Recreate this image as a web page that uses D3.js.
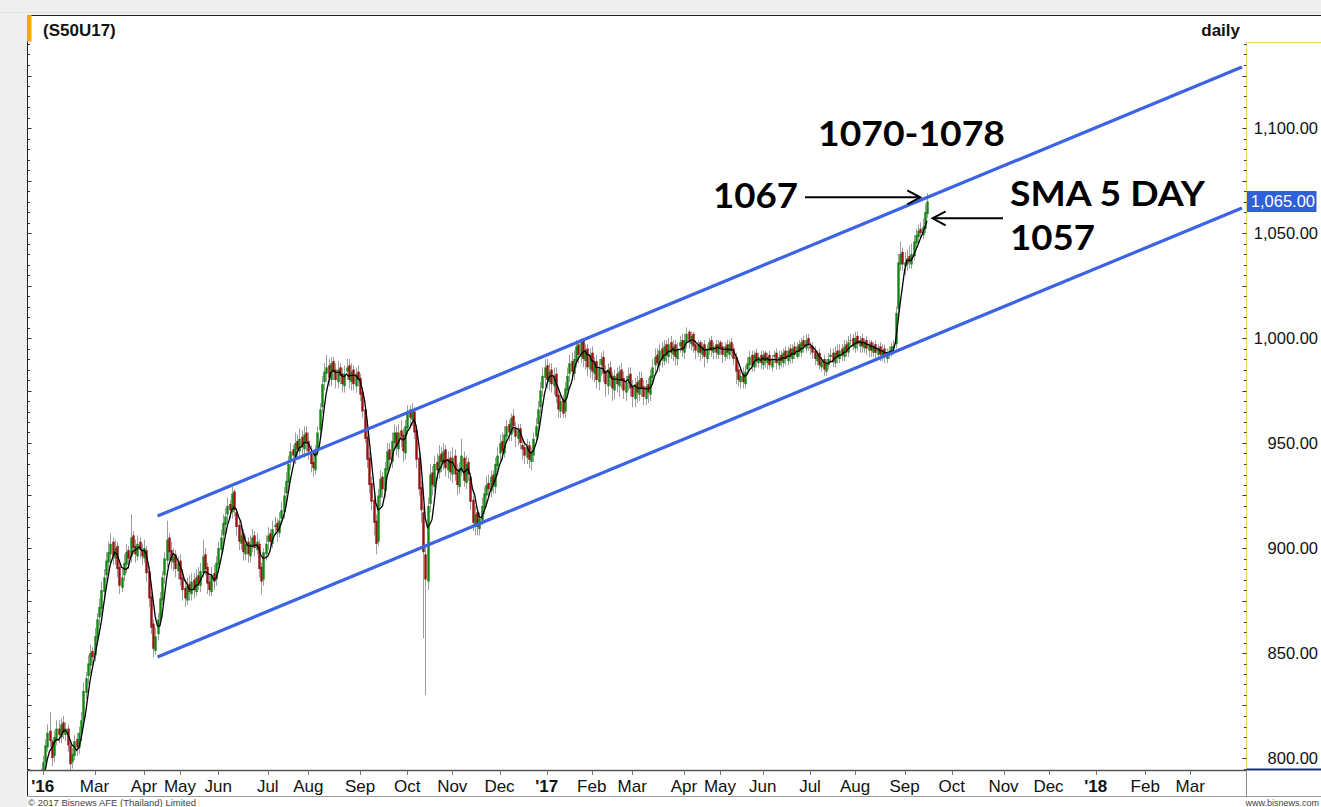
<!DOCTYPE html>
<html><head><meta charset="utf-8">
<script src="https://cdn.jsdelivr.net/npm/d3@7"></script>
<style>body{margin:0;background:#efefef;overflow:hidden}svg{display:block}</style>
</head><body>
<svg id="c" width="1321" height="807"></svg>
<script>
// ---- data (trading-day index 0 = first session of the contract) ----
const closes = [
784,788,792,798,806,812,808,800,810,814,
811,816,812,814,806,797,802,808,805,812,
818,832,838,845,850,848,858,866,872,880,
886,894,898,902,896,900,890,882,886,893,
898,895,905,900,897,902,899,896,900,888,
876,862,852,858,866,876,886,895,904,898,
894,896,890,893,885,880,876,882,879,884,
880,886,883,889,896,890,883,880,887,884,
893,900,905,912,915,920,918,926,918,910,
903,906,898,902,897,902,905,900,903,890,
884,898,902,906,903,909,911,908,913,918,
925,932,940,946,944,950,947,952,948,954,
950,946,940,938,946,955,966,978,984,986,
981,988,984,980,985,982,978,983,986,980,
984,978,983,980,973,965,952,942,930,922,
912,902,925,933,928,938,946,942,951,955,
948,955,953,946,958,965,962,966,955,942,
928,918,898,885,920,935,930,940,937,944,
941,946,938,942,936,943,935,930,938,944,
932,940,935,922,912,916,910,914,920,926,
930,928,934,930,940,944,950,946,954,958,
955,962,958,953,956,950,947,944,948,942,
945,952,958,966,975,982,986,980,984,978,
982,972,966,970,964,976,982,988,984,990,
996,992,998,990,994,986,992,984,988,980,
986,990,983,978,985,981,976,982,978,984,
980,975,979,982,976,972,978,974,980,976,
972,977,974,982,986,991,988,994,990,996,
992,997,993,996,991,995,998,994,999,1002,
998,1001,996,994,997,993,996,991,995,998,
994,996,993,997,995,992,996,993,997,994,
990,984,980,982,979,984,988,991,987,992,
989,991,988,992,989,991,987,990,992,988,
991,989,993,990,994,991,995,992,996,994,
998,996,999,997,995,993,990,992,987,989,
985,988,990,992,989,993,991,994,992,996,
994,998,999,996,1000,997,999,996,998,995,
997,994,996,993,995,992,994,991,993,994,
996,996,1012,1036,1040,1035,1036,1038,1036,1040,
1046,1049,1051,1050,1053,1060,1065];
const opens = [
780,785,789,793,798,805,813,808,801,809,
814,810,817,811,814,806,798,801,809,805,
812,818,831,839,844,851,849,857,867,871,
879,887,893,897,903,895,901,891,881,887,
892,899,896,906,901,896,903,899,895,899,
889,877,864,851,859,866,875,887,894,905,
899,893,897,889,894,886,881,875,883,878,
885,879,887,882,888,897,891,884,879,888,
885,892,899,906,911,916,921,917,927,917,
911,902,907,897,903,896,901,906,899,902,
891,885,897,903,907,902,910,912,907,914,
917,926,931,941,947,943,951,946,953,947,
955,951,945,941,937,947,956,967,979,983,
987,980,989,985,979,986,983,977,984,987,
979,985,977,984,981,974,966,953,943,931,
923,913,903,924,934,927,937,947,941,950,
955,947,956,954,945,957,966,961,965,956,
943,929,917,897,884,921,936,929,941,936,
945,940,947,937,943,935,944,936,929,937,
943,931,941,934,923,911,917,909,913,919,
925,931,927,935,929,939,945,951,945,953,
959,954,963,957,952,957,949,948,943,949,
941,944,953,959,967,976,981,987,979,985,
977,983,973,965,971,965,975,983,989,983,
989,997,991,999,989,995,985,993,983,989,
979,987,991,984,977,986,982,975,983,977,
985,981,974,980,983,977,971,979,973,981,
977,971,978,973,981,987,992,987,995,989,
997,991,998,992,997,990,996,999,993,998,
1003,997,1002,997,993,998,992,997,990,994,
999,993,997,992,998,996,991,997,992,998,
995,991,985,979,983,978,985,987,992,986,
993,988,992,987,993,988,992,986,991,993,
987,992,988,994,989,995,990,996,991,997,
993,999,995,1000,996,996,994,989,993,986,
990,984,987,991,993,988,994,990,995,991,
997,993,999,1000,995,1001,996,1000,995,999,
994,998,993,997,992,996,991,995,990,992,
993,995,997,1014,1035,1041,1034,1035,1039,1035,
1039,1045,1048,1052,1049,1052,1059];
const highs = [
788,791,795,801,809,816,822,809,813,818,
818,819,820,817,816,808,805,811,812,815,
822,836,841,849,854,853,862,869,876,884,
890,898,903,907,905,904,903,893,890,897,
902,901,916,908,904,906,905,902,904,901,
891,879,866,862,869,879,889,898,913,907,
903,900,899,896,897,890,885,886,887,888,
888,890,891,893,904,900,893,887,891,892,
896,903,909,916,919,924,923,929,928,919,
913,910,909,906,905,906,909,908,907,904,
893,900,906,910,909,913,915,914,917,922,
929,936,944,950,949,955,954,957,956,958,
958,955,949,945,949,958,969,982,988,992,
990,991,991,988,989,988,986,987,990,990,
988,987,986,987,983,976,968,956,946,934,
926,916,928,937,936,941,950,950,955,959,
958,959,961,957,961,968,968,969,967,958,
946,932,920,900,924,940,939,944,945,949,
948,950,949,946,946,948,947,940,941,952,
946,944,943,936,925,920,919,917,924,929,
934,935,937,937,943,948,954,955,958,961,
961,964,966,960,959,959,952,951,952,951,
948,955,962,970,979,986,990,990,988,988,
986,986,975,974,973,979,986,992,993,994,
999,999,1000,1000,997,997,995,996,991,992,
990,993,994,987,988,989,984,985,986,987,
988,984,982,986,986,980,981,982,984,984,
980,980,981,985,990,995,995,997,998,999,
999,1000,1001,999,999,998,1001,1002,1002,1005,
1004,1003,1003,999,999,999,998,999,997,1000,
1001,998,999,999,999,998,998,999,999,1000,
997,993,988,986,986,987,991,994,994,994,
995,993,994,994,994,993,994,992,994,995,
994,994,995,996,996,997,997,998,998,999,
1000,1001,1002,1002,998,998,996,994,995,991,
992,990,993,995,995,996,997,997,997,999,
999,1001,1002,1002,1003,1003,1001,1002,1000,1001,
999,999,998,999,997,998,997,997,995,996,
998,999,1015,1040,1046,1043,1041,1042,1044,1045,
1049,1052,1054,1055,1057,1064,1069];
const lows = [
777,782,786,790,795,803,805,796,798,806,
807,807,809,808,803,794,795,799,801,802,
808,815,828,835,840,844,846,854,863,868,
876,884,889,893,892,892,886,878,879,884,
888,890,893,897,893,894,895,892,893,884,
872,859,848,849,856,863,873,883,891,894,
890,889,886,885,882,875,872,873,875,875,
876,877,880,879,886,887,878,877,877,880,
882,889,896,902,907,912,914,914,915,906,
899,899,894,894,893,893,898,896,897,886,
878,882,894,899,899,900,906,903,905,911,
914,922,928,937,939,940,943,942,944,943,
946,942,936,934,935,944,953,964,975,979,
977,977,980,976,976,978,974,974,980,976,
975,975,974,977,970,962,950,938,926,918,
906,897,901,920,924,924,934,938,938,947,
944,943,948,941,942,954,958,958,952,938,
925,912,857,830,880,917,925,927,932,933,
936,937,934,933,932,931,932,925,926,934,
929,928,932,918,908,906,906,906,911,916,
921,924,924,926,926,935,941,942,943,950,
951,951,955,948,949,947,942,940,940,938,
937,941,950,956,964,972,977,976,975,974,
973,969,962,962,962,962,972,979,980,980,
986,988,988,986,985,982,981,980,979,976,
975,982,979,972,973,977,970,971,974,972,
976,971,970,975,972,967,967,969,970,972,
968,968,969,970,978,983,985,984,986,987,
988,988,990,989,987,987,993,991,990,995,
995,994,993,990,991,989,990,986,988,992,
991,990,990,990,992,988,989,990,990,991,
987,978,977,976,976,976,983,985,984,984,
986,986,985,985,986,985,985,984,988,985,
985,986,986,987,987,988,988,990,990,991,
991,993,993,994,992,990,987,987,985,984,
982,982,985,988,986,986,988,988,989,989,
991,991,996,994,993,994,993,993,993,992,
991,991,991,990,990,989,989,988,988,990,
991,992,995,1012,1032,1032,1030,1032,1033,1033,
1037,1043,1045,1047,1047,1050,1057];

const monthLabels = ["'16","Mar","Apr","May","Jun","Jul","Aug","Sep","Oct","Nov","Dec","'17","Feb","Mar","Apr","May","Jun","Jul","Aug","Sep","Oct","Nov","Dec","'18","Feb","Mar"];
const monthDays   = [3,26,48,64,81,103,121,144,165,185,206,227,247,265,288,304,323,344,364,386,407,430,450,471,493,513];
const yTickValues = [800,850,900,950,1000,1050,1100];
const lastPrice = 1065;
const upperChannel = [[54,915.2],[536,1129]];
const lowerChannel = [[54,848.1],[536,1061.9]];
const smaPeriod = 5;
const title = "(S50U17)";
const period = "daily";
const noteTarget = "1070-1078";
const noteTouch = {label:"1067", day:393, value:1067};
const noteSma = {label1:"SMA 5 DAY", label2:"1057", day:398.5, value:1057};

// ---- layout ----
const W = 1321, H = 807;
const P = {l:27, r:1246.5, t:42, b:770.5};
const svg = d3.select("#c");
const x = d3.scaleLinear().domain([0,538]).range([36,1246.5]);
const y = d3.scaleLinear().domain([800,1100]).range([758,128]);
const AR = "Liberation Sans, Arial, sans-serif";
const ANN = "Lato, 'Open Sans', sans-serif";

svg.append("rect").attr("width",W).attr("height",H).attr("fill","#efefef");
svg.append("line").attr("x1",0).attr("x2",W).attr("y1",12.5).attr("y2",12.5).attr("stroke","#e2e2e2");
svg.append("rect").attr("x",P.l).attr("y",15).attr("width",W-P.l).attr("height",H-15).attr("fill","#fff");

// clip
svg.append("clipPath").attr("id","clip").append("rect")
  .attr("x",P.l+1).attr("y",P.t).attr("width",P.r-P.l-1).attr("height",P.b-P.t);

// data
const data = closes.map((c,i)=>({i, o:opens[i], h:highs[i], l:lows[i], c}));
const g = svg.append("g").attr("clip-path","url(#clip)");

g.selectAll("line.wick").data(data).join("line")
  .attr("x1",d=>Math.round(x(d.i))+0.5).attr("x2",d=>Math.round(x(d.i))+0.5)
  .attr("y1",d=>y(d.h)).attr("y2",d=>y(d.l))
  .attr("stroke","#9e9e9e").attr("stroke-width",1);

g.selectAll("rect.body").data(data).join("rect")
  .attr("x",d=>Math.round(x(d.i))-0.7).attr("width",2.4)
  .attr("y",d=>y(Math.max(d.o,d.c)))
  .attr("height",d=>Math.max(1,Math.abs(y(d.o)-y(d.c))))
  .attr("fill",d=>d.c>=d.o?"#138513":"#991010");

// SMA
const sma = data.slice(smaPeriod-1).map(d=>({i:d.i, v:d3.mean(closes.slice(d.i-smaPeriod+1,d.i+1))}));
g.append("path").datum(sma)
  .attr("d",d3.line().x(d=>x(d.i)).y(d=>y(d.v)))
  .attr("fill","none").attr("stroke","#000").attr("stroke-width",1.3);

// channel
[upperChannel, lowerChannel].forEach(ch=>{
  g.append("path").datum(ch)
   .attr("d",d3.line().x(d=>x(d[0])).y(d=>y(d[1])))
   .attr("fill","none").attr("stroke","#3b63e3").attr("stroke-width",3.2);
});

// frame
svg.append("line").attr("x1",P.l).attr("x2",W).attr("y1",15.5).attr("y2",15.5).attr("stroke","#222");
svg.append("line").attr("x1",P.l+0.5).attr("x2",P.l+0.5).attr("y1",15).attr("y2",797).attr("stroke","#222");
svg.append("rect").attr("x",P.l).attr("y",15).attr("width",4.5).attr("height",26.5).attr("fill","#f7a21b");
svg.append("text").attr("x",43).attr("y",35.5).attr("font-family",AR).attr("font-weight","bold")
  .attr("font-size",17).attr("fill","#111").text(title);
svg.append("text").attr("x",1240).attr("y",35.5).attr("text-anchor","end").attr("font-family",AR)
  .attr("font-weight","bold").attr("font-size",17).attr("fill","#111").text(period);

// y axis
svg.append("path").attr("d",`M${P.r},${P.b} V42.5 H${W}`).attr("fill","none").attr("stroke","#f0d36e").attr("stroke-width",1.2);
const minor = d3.range(795, 1141, 5);
svg.selectAll("line.rt").data(minor).join("line")
  .attr("x1",d=>P.r-(d%25===0?4:2.5)).attr("x2",P.r)
  .attr("y1",d=>Math.round(y(d))+0.5).attr("y2",d=>Math.round(y(d))+0.5)
  .attr("stroke","#333");
svg.selectAll("line.lt").data(minor).join("line")
  .attr("x1",P.l+0.5).attr("x2",d=>P.l+0.5+(d%25===0?4:2.5))
  .attr("y1",d=>Math.round(y(d))+0.5).attr("y2",d=>Math.round(y(d))+0.5)
  .attr("stroke","#333");
const fmt = d3.format(",.2f");
svg.selectAll("text.yl").data(yTickValues).join("text")
  .attr("x",1318).attr("y",d=>y(d)).attr("dy","0.36em").attr("text-anchor","end")
  .attr("font-family",AR).attr("font-size",16.5).attr("fill","#111").text(d=>fmt(d));
svg.append("rect").attr("x",P.r+0.5).attr("y",y(lastPrice)-10.5).attr("width",69.5).attr("height",21)
  .attr("fill","#2f5fd9");
svg.append("text").attr("x",1315).attr("y",y(lastPrice)).attr("dy","0.36em").attr("text-anchor","end")
  .attr("font-family",AR).attr("font-size",16.5).attr("fill","#fff").text(fmt(lastPrice));

// x axis band
svg.append("line").attr("x1",P.l).attr("x2",P.r).attr("y1",770.5).attr("y2",770.5).attr("stroke","#555").attr("stroke-width",1.5);
svg.append("line").attr("x1",P.r).attr("x2",W).attr("y1",769.5).attr("y2",769.5).attr("stroke","#1d2c6e").attr("stroke-width",2);
svg.append("line").attr("x1",P.l).attr("x2",W).attr("y1",796.5).attr("y2",796.5).attr("stroke","#9a9a9a");
svg.append("line").attr("x1",P.r).attr("x2",P.r).attr("y1",770).attr("y2",797).attr("stroke","#888");
svg.selectAll("line.xt").data(monthDays).join("line")
  .attr("x1",d=>Math.round(x(d))+0.5).attr("x2",d=>Math.round(x(d))+0.5)
  .attr("y1",771).attr("y2",775).attr("stroke","#777");
svg.selectAll("text.xl").data(monthLabels).join("text")
  .attr("x",(d,k)=>x(monthDays[k])).attr("y",792).attr("text-anchor","middle")
  .attr("font-family",AR).attr("font-size",17).attr("fill","#111")
  .attr("font-weight",d=>d.startsWith("'")?"bold":"normal").text(d=>d);

// footer
svg.append("text").attr("x",28).attr("y",806).attr("font-family",AR).attr("font-size",9.5).attr("fill","#444")
  .text("© 2017 Bisnews AFE (Thailand) Limited");
svg.append("text").attr("x",1319).attr("y",805.5).attr("text-anchor","end").attr("font-family",AR).attr("font-size",9).attr("fill","#444")
  .text("www.bisnews.com");

// annotations
function txt(s, xx, yy, len){
  svg.append("text").attr("x",xx).attr("y",yy).attr("font-family",ANN).attr("font-weight","bold")
    .attr("font-size",35).attr("fill","#000").attr("textLength",len).attr("lengthAdjust","spacingAndGlyphs").text(s);
}
function arrow(x0, tx, ty){
  const dir = tx > x0 ? 1 : -1;
  svg.append("line").attr("x1",x0).attr("x2",tx).attr("y1",ty).attr("y2",ty).attr("stroke","#000").attr("stroke-width",2);
  svg.append("path").attr("d",`M${tx-dir*13},${ty-7} L${tx},${ty} L${tx-dir*13},${ty+7}`)
    .attr("fill","none").attr("stroke","#000").attr("stroke-width",2);
}
txt(noteTarget, 818, 146, 187);
txt(noteTouch.label, 713, 208, 85);
arrow(805, x(noteTouch.day), y(noteTouch.value));
txt(noteSma.label1, 1010, 206, 195);
txt(noteSma.label2, 1010, 250, 85);
arrow(1003, x(noteSma.day), y(noteSma.value));
</script>
</body></html>
